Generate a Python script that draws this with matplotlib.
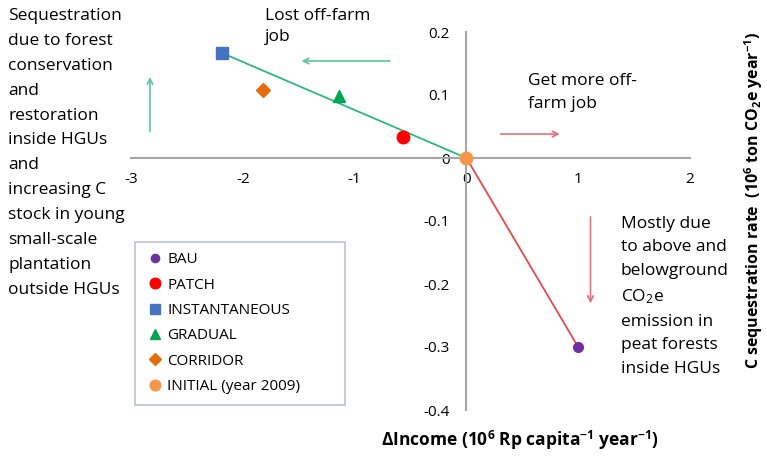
import matplotlib
matplotlib.use("Agg")
import matplotlib.pyplot as plt
from matplotlib.lines import Line2D

plt.rcParams['font.family'] = ['Open Sans', 'DejaVu Sans']
plt.rcParams['mathtext.fontset'] = 'custom'
plt.rcParams['mathtext.rm'] = 'Open Sans'
plt.rcParams['mathtext.bf'] = 'Open Sans:bold'
plt.rcParams['mathtext.it'] = 'Open Sans:italic'

# scenario results: change in income vs C sequestration rate
scenarios = ["BAU", "PATCH", "INSTANTANEOUS", "GRADUAL", "CORRIDOR", "INITIAL (year 2009)"]
d_income = [1.0, -0.57, -2.19, -1.14, -1.82, 0.0]
c_seq = [-0.30, 0.033, 0.167, 0.098, 0.108, 0.0]
markers = ["o", "o", "s", "^", "D", "o"]
colors = ["#7030a0", "#ff0000", "#4472c4", "#00a651", "#e46c0a", "#f79646"]
sizes = [7, 9, 8, 8, 7, 9]

xticks = [-3, -2, -1, 0, 1, 2]
yticks = [-0.4, -0.3, -0.2, -0.1, 0, 0.1, 0.2]

fig = plt.figure(figsize=(7.67, 4.57), dpi=100)
ax = fig.add_axes([131/767, 1 - 410/457, 559/767, 378/457])
ax.set_xlim(-3, 2)
ax.set_ylim(-0.4, 0.2)

# lines: gain side (green) and loss side (red)
ax.plot([d_income[2], d_income[5]], [c_seq[2], c_seq[5]], color="#2db87d", lw=1.3, zorder=2)
ax.plot([d_income[5], d_income[0]], [c_seq[5], c_seq[0]], color="#e8474f", lw=1.3, zorder=2)

for x, y, m, c, s in zip(d_income, c_seq, markers, colors, sizes):
    ax.plot(x, y, marker=m, color=c, markersize=s, linestyle="none", zorder=3)

# axes through origin
for side in ["top", "right"]:
    ax.spines[side].set_visible(False)
ax.spines["left"].set_position(("data", 0))
ax.spines["bottom"].set_position(("data", 0))
for side in ["left", "bottom"]:
    ax.spines[side].set_color("#a6a6a6")
    ax.spines[side].set_linewidth(1.5)
ax.set_xticks(xticks)
ax.set_xticklabels([str(t) for t in xticks])
ax.set_yticks(yticks)
ax.set_yticklabels(["%g" % t for t in yticks])
ax.tick_params(axis="x", length=0, pad=10, labelsize=11)
ax.tick_params(axis="y", length=0, pad=12, labelsize=11)

# arrows
green_arrow = dict(arrowstyle="->", color="#5cc59a", lw=1.2)
red_arrow = dict(arrowstyle="->", color="#e8707a", lw=1.2)
ax.annotate("", xy=(-2.83, 0.133), xytext=(-2.83, 0.038), arrowprops=green_arrow, annotation_clip=False)
ax.annotate("", xy=(-1.50, 0.154), xytext=(-0.66, 0.154), arrowprops=green_arrow)
ax.annotate("", xy=(0.86, 0.038), xytext=(0.28, 0.038), arrowprops=red_arrow)
ax.annotate("", xy=(1.11, -0.235), xytext=(1.11, -0.089), arrowprops=red_arrow)

# annotation texts
fs = 12.5
ax.text(-1.80, 0.238, "Lost off-farm\njob", fontsize=fs, va="top", ha="left", linespacing=1.4)
ax.text(0.55, 0.135, "Get more off-\nfarm job", fontsize=fs, va="top", ha="left", linespacing=1.55)
ax.text(1.38, -0.092, "Mostly due\nto above and\nbelowground\nCO$_2$e\nemission in\npeat forests\ninside HGUs",
        fontsize=fs, va="top", ha="left", linespacing=1.62)
fig.text(8/767, 1 - 8/457,
         "Sequestration\ndue to forest\nconservation\nand\nrestoration\ninside HGUs\nand\nincreasing C\nstock in young\nsmall-scale\nplantation\noutside HGUs",
         fontsize=fs, va="top", ha="left", linespacing=1.74)

# axis labels
fig.text(520/767, 1 - 440/457, r"$\mathbf{\Delta}$Income (10$^{\mathbf{6}}$ Rp capita$^{\mathbf{-1}}$ year$^{\mathbf{-1}}$)",
         fontsize=12.5, fontweight="bold", ha="center", va="center")
fig.text(754/767, 1 - 200/457, r"C sequestration rate  (10$^{\mathbf{6}}$ ton CO$_{\mathbf{2}}$e year$^{\mathbf{-1}}$)",
         fontsize=11.5, fontweight="bold", ha="center", va="center", rotation=90)

# legend
handles = [Line2D([], [], marker=m, color=c, linestyle="none", markersize=s * 0.85)
           for m, c, s in zip(markers, colors, sizes)]
leg = fig.legend(handles, scenarios, loc="upper left",
                 bbox_to_anchor=(135/767, 1 - 242/457, 210/767, 0.001), mode="expand",
                 fontsize=11, frameon=True, fancybox=False, handletextpad=0.2, handlelength=1.2,
                 labelspacing=0.68, borderpad=0.7, borderaxespad=0)
leg.get_frame().set_edgecolor("#a8b4c8")
leg.get_frame().set_linewidth(1.2)

fig.savefig("out.png", dpi=100)
